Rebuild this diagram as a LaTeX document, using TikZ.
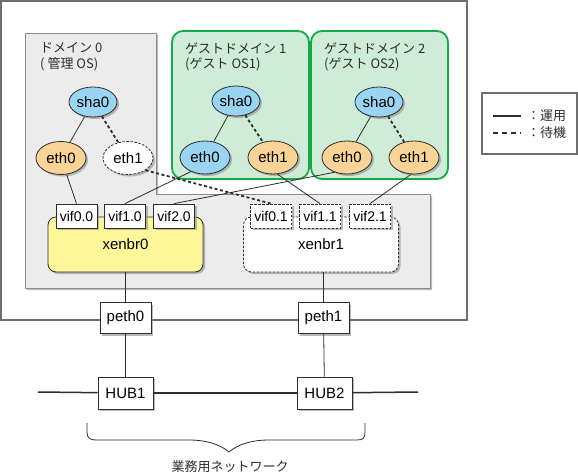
\documentclass[tikz,border=0pt]{standalone}
\usepackage{fontspec}
\setmainfont{Liberation Sans}
\newfontfamily\jpfont{Noto Sans CJK JP}
\usetikzlibrary{shapes.geometric,shadows}
\definecolor{shablue}{RGB}{153,212,242}
\definecolor{ethorange}{RGB}{250,212,150}
\definecolor{guestfill}{RGB}{206,236,216}
\definecolor{guestline}{RGB}{20,170,70}
\definecolor{bryellow}{RGB}{255,246,153}
\definecolor{grayfill}{RGB}{236,236,236}
\definecolor{lineclr}{RGB}{45,45,45}
\definecolor{frameclr}{RGB}{110,110,110}
\tikzset{
  shadowed/.style={drop shadow={shadow xshift=2pt,shadow yshift=-2pt,fill=black!45,opacity=0.6}},
  fine dash/.style={dash pattern=on 2.5pt off 1.5pt},
  ell/.style={ellipse,draw=lineclr,line width=0.8pt,inner sep=0pt,font=\fontsize{15}{17}\selectfont,shadowed},
  shanode/.style={ell,fill=shablue,minimum width=48pt,minimum height=30pt},
  ethnode/.style={ell,fill=ethorange,minimum width=50pt,minimum height=33pt},
  ethblue/.style={ethnode,fill=shablue},
  ethstandby/.style={ethnode,fill=white,fine dash},
  vifbox/.style={rectangle,draw=lineclr,fill=white,line width=0.8pt,minimum width=41pt,minimum height=24pt,inner sep=0pt,font=\fontsize{14}{16}\selectfont,shadowed},
  vifstandby/.style={vifbox,fine dash},
  pbox/.style={rectangle,draw=lineclr,fill=white,line width=0.8pt,minimum width=51pt,minimum height=31pt,inner sep=0pt,font=\fontsize{15}{17}\selectfont,shadowed},
  hubbox/.style={pbox,minimum width=55pt,minimum height=32pt},
  bridge/.style={rectangle,rounded corners=8pt,draw=lineclr,line width=0.8pt,minimum width=155pt,minimum height=55pt,inner sep=0pt,font=\fontsize{15}{17}\selectfont,shadowed},
  guestbox/.style={rectangle,rounded corners=11pt,draw=guestline,fill=guestfill,line width=1.8pt,minimum width=137pt,minimum height=148pt,inner sep=0pt},
  jplabel/.style={anchor=west,inner sep=0pt,font=\jpfont\fontsize{13}{15}\selectfont,text=lineclr},
  conn/.style={draw=lineclr,line width=0.8pt},
  standbyconn/.style={draw=lineclr,line width=1.8pt,dash pattern=on 3pt off 2.5pt},
  netline/.style={draw=lineclr,line width=1.5pt},
}
\begin{document}
\begin{tikzpicture}[x=1pt,y=-1pt]
\useasboundingbox (0,0) rectangle (578,476);
% outer frame
\draw[frameclr,line width=1.2pt] (1,1) rectangle (467,320);
% domain 0 / bridge area
\path[fill=grayfill,draw=black!45,line width=0.8pt,shadowed]
  (25,33) -- (156,33) -- (156,194) -- (430,194) -- (430,288) -- (25,288) -- cycle;
% guest domains
\node[guestbox] (g1) at (240.5,105) {};
\node[guestbox] (g2) at (379.5,105) {};
% labels
\node[jplabel] (t0a) at (40,48) {ドメイン 0};
\node[jplabel] (t0b) at (40,64) {( 管理 OS)};
\node[jplabel] (t1a) at (185,48) {ゲストドメイン 1};
\node[jplabel] (t1b) at (185,64) {(ゲスト OS1)};
\node[jplabel] (t2a) at (324,48) {ゲストドメイン 2};
\node[jplabel] (t2b) at (324,64) {(ゲスト OS2)};
% legend
\node[draw=frameclr,line width=1.2pt,minimum width=95pt,minimum height=61pt,inner sep=0pt] (leg) at (529.5,123.5) {};
\coordinate (ls1) at (493,116);
\coordinate (ls2) at (521,116);
\coordinate (ld1) at (493,133);
\coordinate (ld2) at (521,133);
\draw[netline] (ls1) -- (ls2);
\draw[draw=lineclr,line width=1.5pt,dash pattern=on 5pt off 4pt] (ld1) -- (ld2);
\node[jplabel] (lt1) at (527,116) {：運用};
\node[jplabel] (lt2) at (527,133) {：待機};
% bridges
\node[bridge,fill=bryellow] (br0) at (125.5,244.5) {\raisebox{-3pt}{xenbr0}};
\node[bridge,fill=white,fine dash] (br1) at (321,244.5) {\raisebox{-3pt}{xenbr1}};
% vif boxes
\node[vifbox] (v00) at (76.5,216) {vif0.0};
\node[vifbox] (v10) at (125,216) {vif1.0};
\node[vifbox] (v20) at (174,216) {vif2.0};
\node[vifstandby] (v01) at (271,216) {vif0.1};
\node[vifstandby] (v11) at (320,216) {vif1.1};
\node[vifstandby] (v21) at (370,216) {vif2.1};
% domain 0 nodes
\node[shanode] (s0) at (93,102) {sha0};
\node[ethnode] (e00) at (61,158) {eth0};
\node[ethstandby] (e01) at (128,158) {eth1};
% guest 1 nodes
\node[shanode] (s1) at (236,101) {sha0};
\node[ethblue] (g1e0) at (205,157.5) {eth0};
\node[ethnode] (g1e1) at (273,157.5) {eth1};
% guest 2 nodes
\node[shanode] (s2) at (379,102) {sha0};
\node[ethnode] (g2e0) at (347,157.5) {eth0};
\node[ethnode] (g2e1) at (414,157.5) {eth1};
% sha connections
\draw[conn] (s0) -- (e00);
\draw[standbyconn] (s0) -- (e01);
\draw[conn] (s1) -- (g1e0);
\draw[standbyconn] (s1) -- (g1e1);
\draw[conn] (s2) -- (g2e0);
\draw[standbyconn] (s2) -- (g2e1);
% eth to vif
\draw[conn] (e00) -- (v00.north);
\draw[standbyconn] (e01.-35) -- (v01.north);
\draw[conn] (g1e0.-135) -- (v10.north);
\draw[conn] (g1e1.-75) -- (v11.north);
\draw[conn] (g2e0.-130) -- (v20.north);
\draw[conn] (g2e1.-100) -- (v21.north);
% physical
\node[pbox] (p0) at (125.5,318) {peth0};
\node[pbox] (p1) at (323.5,318) {peth1};
\draw[conn] (br0.south) -- (p0.north);
\draw[conn] (br1.south -| p1.north) -- (p1.north);
\node[hubbox] (h1) at (125.5,393) {HUB1};
\node[hubbox] (h2) at (324.5,393) {HUB2};
\draw[conn] (p0) -- (h1);
\draw[conn] (p1) -- (h2);
\coordinate (netL) at (38,392);
\coordinate (netR) at (418,392);
\draw[netline] (netL) -- (h1);
\draw[netline] (h1) -- (h2);
\draw[netline] (h2) -- (netR);
% brace
\draw[conn] (87,423) -- (87,432) .. controls (87,438) and (90,440) .. (96,440) -- (190,440)
  .. controls (205,440) and (220,444) .. (229,452)
  .. controls (238,444) and (253,440) .. (268,440) -- (357,440)
  .. controls (363,440) and (365,438) .. (365,432) -- (365,423);
\node[jplabel,anchor=center] (netlabel) at (230,467) {業務用ネットワーク};
\end{tikzpicture}
\end{document}
